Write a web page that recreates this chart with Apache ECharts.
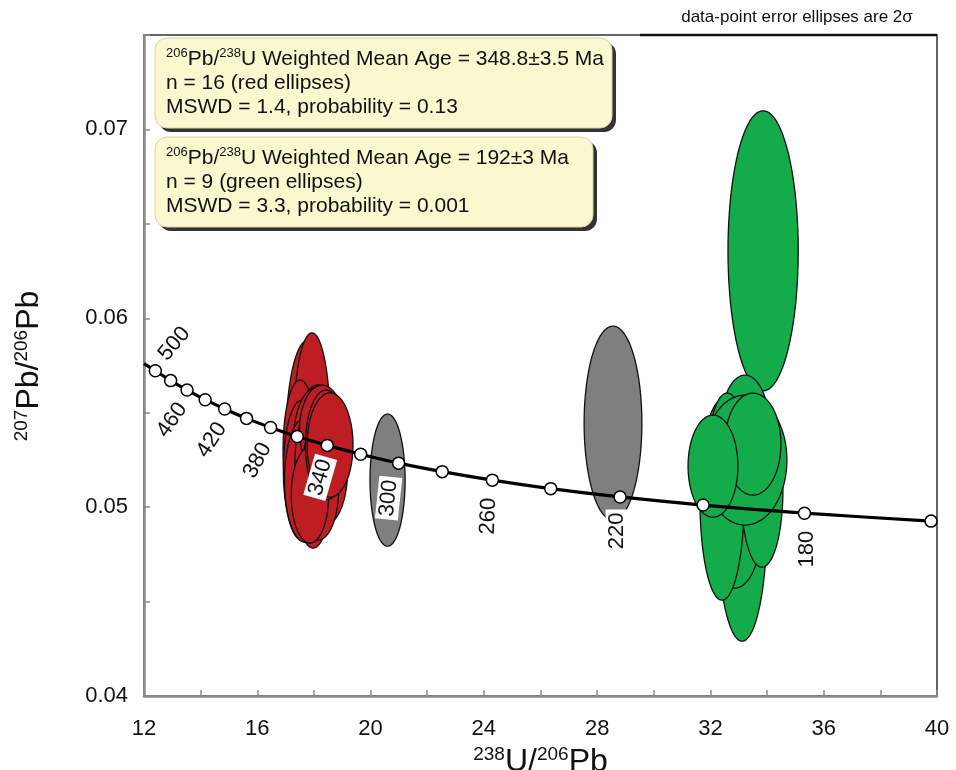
<!DOCTYPE html>
<html><head><meta charset="utf-8">
<script src="https://cdn.jsdelivr.net/npm/echarts@6/dist/echarts.min.js"></script>
<style>html,body{margin:0;padding:0;background:#fff}#c{width:956px;height:770px}</style>
</head><body><div id="c"></div>
<script>
// ---- DATA ----
const concordiaAges = [500,480,460,440,420,400,380,360,340,320,300,280,260,240,220,200,180,160];
const concordiaX = [12.40,12.94,13.52,14.16,14.85,15.62,16.47,17.41,18.47,19.65,20.99,22.53,24.30,26.36,28.81,31.74,35.32,39.79];
const concordiaY = [0.05722,0.05670,0.05620,0.05569,0.05520,0.05470,0.05422,0.05374,0.05327,0.05280,0.05233,0.05188,0.05143,0.05098,0.05054,0.05011,0.04968,0.04926];
const curveStart = [12.0, 0.05760];
const curveEnd = [40.0, 0.04924];
const labeledAges = [500,460,420,380,340,300,260,220,180];
// ellipses: [centre x, centre y, half-width x, half-height y]
const redEllipses = [
  [17.79,0.05355,0.78,0.00530],
  [17.93,0.05435,0.64,0.00488],
  [17.97,0.05196,0.71,0.00413],
  [17.51,0.05302,0.60,0.00371],
  [17.58,0.05196,0.66,0.00371],
  [18.14,0.05276,0.85,0.00371],
  [18.00,0.05196,0.80,0.00371],
  [18.04,0.05302,0.80,0.00329],
  [17.69,0.05143,0.73,0.00329],
  [18.21,0.05249,0.88,0.00318],
  [18.29,0.05408,0.80,0.00238],
  [18.39,0.05196,0.80,0.00291],
  [18.14,0.05090,0.73,0.00265],
  [17.86,0.05064,0.66,0.00254],
  [18.43,0.05329,0.73,0.00291],
  [18.57,0.05329,0.81,0.00276]
];
const grayEllipses = [
  [20.60,0.05143,0.62,0.00350],
  [28.56,0.05445,1.02,0.00514]
];
const greenEllipses = [
  [33.86,0.06357,1.24,0.00742],
  [33.12,0.04931,0.88,0.00641],
  [32.87,0.05011,1.06,0.00440],
  [32.41,0.05037,0.78,0.00530],
  [33.82,0.05090,0.74,0.00408],
  [33.22,0.05408,0.88,0.00291],
  [32.59,0.05302,0.64,0.00302],
  [33.22,0.05249,1.48,0.00344],
  [33.50,0.05334,0.99,0.00270],
  [32.09,0.05217,0.88,0.00270]
];
const xTickLabels = [12,16,20,24,28,32,36,40];
const yTickLabels = ['0.04','0.05','0.06','0.07'];
const box1Lines = ['206|Pb/|238|U Weighted Mean Age = 348.8±3.5 Ma','n = 16 (red ellipses)','MSWD = 1.4, probability = 0.13'];
const box2Lines = ['206|Pb/|238|U Weighted Mean Age = 192±3 Ma','n = 9 (green ellipses)','MSWD = 3.3, probability = 0.001'];

// ---- STYLE ----
const FONT = '"Liberation Sans", Arial, Helvetica, sans-serif';
const ageLabelStyle = {
  500:{dx:19,dy:-27,rot:50}, 460:{dx:-15,dy:30,rot:55}, 420:{dx:-13,dy:31,rot:57},
  380:{dx:-13,dy:33,rot:62}, 340:{dx:-7,dy:32,rot:74}, 300:{dx:-10,dy:35,rot:84},
  260:{dx:-4,dy:36,rot:88}, 220:{dx:-3,dy:34,rot:90}, 180:{dx:2,dy:36,rot:90}
};

const markers = concordiaAges.map((a,i)=>[concordiaX[i],concordiaY[i],a]);
const curve = [curveStart].concat(concordiaAges.map((a,i)=>[concordiaX[i],concordiaY[i]])).concat([curveEnd]);
const labelData = labeledAges.map(a=>{const i=concordiaAges.indexOf(a);return [concordiaX[i],concordiaY[i],a];});

function ellipseRender(color){
  return function(params, api){
    const cx=api.value(0), cy=api.value(1), rx=api.value(2), ry=api.value(3);
    const pts=[];
    for(let k=0;k<90;k++){const t=k/90*2*Math.PI;pts.push(api.coord([cx+rx*Math.cos(t),cy+ry*Math.sin(t)]));}
    return {type:'polygon',shape:{points:pts},style:{fill:color,stroke:'#111',lineWidth:1.3}};
  };
}
function richLines(lines){
  return lines.map(l=>{
    const p=l.split('|');
    if(p.length===1) return '{n|'+l+'}';
    return '{s|'+p[0]+'}{n|'+p[1]+'}{s|'+p[2]+'}{n|'+p[3]+'}';
  }).join('\n');
}
const boxRich = {n:{fontSize:21,lineHeight:24,fontFamily:FONT,fill:'#111'},s:{fontSize:13,lineHeight:24,verticalAlign:'top',fontFamily:FONT,fill:'#111'}};
function infoBox(left,top,w,h,lines){
  return {type:'group',x:left,y:top,z:100,children:[
    {type:'rect',shape:{x:4,y:4,width:w,height:h,r:12},style:{fill:'#333'},z:100},
    {type:'rect',shape:{x:0,y:0,width:w,height:h,r:12},style:{fill:'#FBF7CF',stroke:'#d8d2a8',lineWidth:1},z:101},
    {type:'text',x:11,y:9,z:102,style:{text:richLines(lines),rich:boxRich,font:'21px '+FONT}}
  ]};
}
const titleRich = {b:{fontSize:32,lineHeight:34,fontFamily:FONT,fill:'#111',color:'#111'},s:{fontSize:19,lineHeight:34,verticalAlign:'top',fontFamily:FONT,fill:'#111',color:'#111'}};

const chart = echarts.init(document.getElementById('c'),null,{renderer:'canvas'});
chart.setOption({
  animation:false,
  backgroundColor:'#fff',
  grid:{left:144,right:19,top:35,bottom:74,show:true,borderColor:'#333',borderWidth:1.5,outerBoundsMode:'none'},
  xAxis:{type:'value',min:12,max:40,interval:2,
    axisLine:{show:true,onZero:false,lineStyle:{color:'#8c8c8c',width:2.5}},
    axisTick:{show:true,inside:true,length:6,lineStyle:{color:'#8c8c8c',width:1.5}},
    splitLine:{show:false},
    axisLabel:{margin:22,fontSize:22,fontFamily:FONT,color:'#111',formatter:v=>xTickLabels.indexOf(v)>=0?String(v):''},
    name:'{s|238}{b|U/}{s|206}{b|Pb}',nameLocation:'middle',nameGap:39,
    nameTextStyle:{rich:titleRich}
  },
  yAxis:{type:'value',min:0.04,max:0.075,interval:0.005,
    axisLine:{show:true,onZero:false,lineStyle:{color:'#8c8c8c',width:2.5}},
    axisTick:{show:true,inside:true,length:6,lineStyle:{color:'#8c8c8c',width:1.5}},
    splitLine:{show:false},
    axisLabel:{margin:16,fontSize:22,fontFamily:FONT,color:'#111',formatter:v=>{const t=v.toFixed(2);return (yTickLabels.indexOf(t)>=0 && Math.abs(v-parseFloat(t))<1e-6)?t:'';}}
  },
  graphic:[
    {type:'text',x:29,y:366,rotation:Math.PI/2,z:100,style:{text:'{s|207}{b|Pb/}{s|206}{b|Pb}',rich:titleRich,align:'center',verticalAlign:'middle'}},
    infoBox(155,38,457,90,box1Lines),
    infoBox(155,137,438,90,box2Lines),
    {type:'text',x:797,y:17,z:100,style:{text:'data-point error ellipses are 2σ',font:'17px '+FONT,fill:'#111',align:'center',verticalAlign:'middle'}},
    {type:'line',z:100,shape:{x1:640,y1:35,x2:937,y2:35},style:{stroke:'#111',lineWidth:2.5}}
  ],
  series:[
    {type:'custom',name:'red',z:2,renderItem:ellipseRender('#BE1E23'),encode:{x:0,y:1},data:redEllipses,clip:true},
    {type:'custom',name:'gray',z:2,renderItem:ellipseRender('#7F7F7F'),encode:{x:0,y:1},data:grayEllipses,clip:true},
    {type:'custom',name:'green',z:2,renderItem:ellipseRender('#14AB4B'),encode:{x:0,y:1},data:greenEllipses,clip:true},
    {type:'custom',name:'ageLabels',z:3,encode:{x:0,y:1},data:labelData,
      renderItem:function(params,api){
        const age=api.value(2);const p=api.coord([api.value(0),api.value(1)]);const s=ageLabelStyle[age];
        return {type:'text',x:p[0]+s.dx,y:p[1]+s.dy,rotation:s.rot*Math.PI/180,
          style:{text:String(age),font:'22px '+FONT,fill:'#111',align:'center',verticalAlign:'middle',backgroundColor:'#fff',padding:[1,3,0,3]}};
      }},
    {type:'line',name:'concordia',z:4,data:curve,smooth:0.3,showSymbol:false,symbol:'none',lineStyle:{color:'#000',width:3.2}},
    {type:'scatter',name:'ticks',z:5,data:markers,symbol:'circle',symbolSize:12,itemStyle:{color:'#fff',borderColor:'#000',borderWidth:1.5,opacity:1}}
  ]
});
</script></body></html>
